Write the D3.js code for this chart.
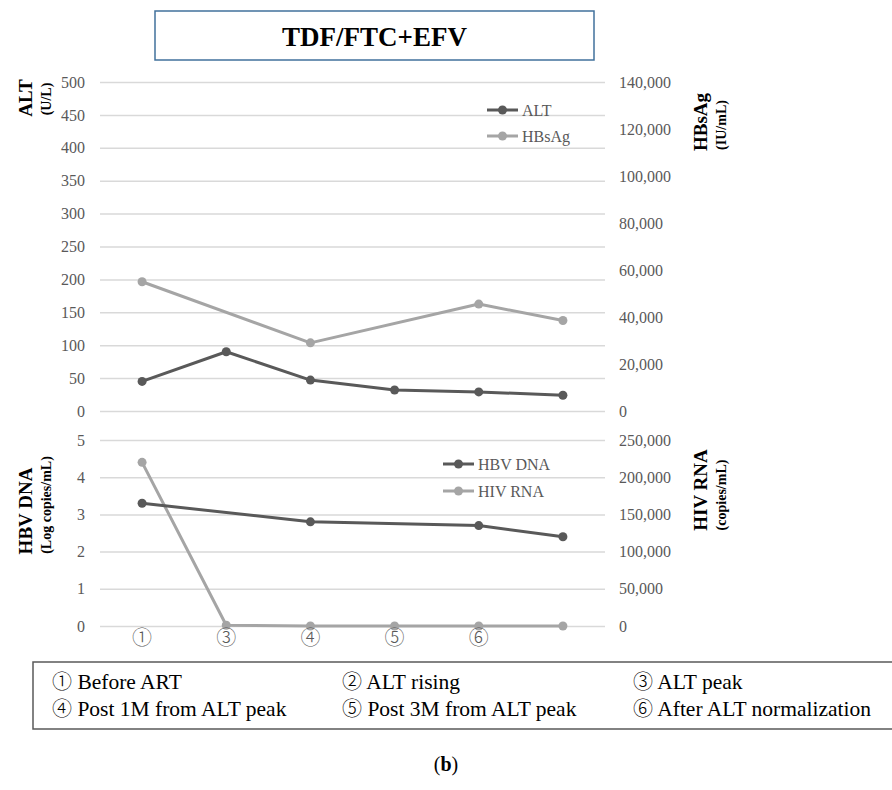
<!DOCTYPE html>
<html>
<head>
<meta charset="utf-8">
<script src="https://cdn.jsdelivr.net/npm/d3@7/dist/d3.min.js"></script>
<style>
  html, body { margin: 0; padding: 0; background: #fff; }
  svg { display: block; }
  text { font-family: "Liberation Serif", "Times New Roman", serif; }
</style>
</head>
<body>
<svg id="chart" width="892" height="790"></svg>
<script>
// ---------- data ----------
const categories = ["①", "③", "④", "⑤", "⑥", ""];
const altValues = [45, 90, 47, 32, 29, 24];
const hbsagValues = [55000, null, 29000, null, 45500, 38500];
const hbvDnaValues = [3.3, null, 2.8, null, 2.7, 2.4];
const hivRnaValues = [220000, 1000, 0, 0, 0, 0];

const altTicks = [0, 50, 100, 150, 200, 250, 300, 350, 400, 450, 500];
const hbsagTicks = [0, 20000, 40000, 60000, 80000, 100000, 120000, 140000];
const hbvTicks = [0, 1, 2, 3, 4, 5];
const hivTicks = [0, 50000, 100000, 150000, 200000, 250000];

const titleText = "TDF/FTC+EFV";
const stageMarks = [["①", "②", "③"], ["④", "⑤", "⑥"]];
const stageLabels = [
  ["Before ART", "ALT rising", "ALT peak"],
  ["Post 1M from ALT peak", "Post 3M from ALT peak", "After ALT normalization"]
];

// ---------- layout ----------
const svg = d3.select("#chart");
const left = 100, right = 605;
const topPanel = { y0: 411, y1: 82 };
const botPanel = { y0: 626, y1: 440 };
const darkC = "#595959", lightC = "#a5a5a5", gridC = "#d9d9d9", tickC = "#595959";
const cjk = '"Noto Sans CJK JP", "Noto Sans CJK SC", "DejaVu Sans", sans-serif';

const x = d3.scaleBand().domain(categories.map((c, i) => i)).range([left, right]).padding(0);
const cx = i => x(i) + x.bandwidth() / 2;

const yAlt = d3.scaleLinear().domain([0, 500]).range([topPanel.y0, topPanel.y1]);
const yHbs = d3.scaleLinear().domain([0, 140000]).range([topPanel.y0, topPanel.y1]);
const yHbv = d3.scaleLinear().domain([0, 5]).range([botPanel.y0, botPanel.y1]);
const yHiv = d3.scaleLinear().domain([0, 250000]).range([botPanel.y0, botPanel.y1]);

const fmt = d3.format(",");

// title box
svg.append("rect").attr("x", 155).attr("y", 11).attr("width", 439).attr("height", 49)
  .attr("fill", "#fff").attr("stroke", "#41719c").attr("stroke-width", 1.5);
svg.append("text").attr("x", 374.5).attr("y", 46).attr("text-anchor", "middle")
  .attr("font-size", 27).attr("font-weight", "bold").attr("fill", "#000").text(titleText);

// grid + axes
function gridAndAxes(yL, ticksL, yR, ticksR, fmtR) {
  const g = svg.append("g");
  const grid = g.append("g").attr("transform", `translate(${left},0)`)
    .call(d3.axisLeft(yL).tickValues(ticksL).tickSize(-(right - left)).tickFormat(""));
  grid.select(".domain").remove();
  grid.selectAll("line").attr("stroke", gridC).attr("stroke-width", 1.5);

  const la = g.append("g").attr("transform", `translate(${left},0)`)
    .call(d3.axisLeft(yL).tickValues(ticksL).tickSize(0).tickPadding(15).tickFormat(d3.format("d")));
  la.select(".domain").remove();
  la.selectAll("text").attr("fill", tickC).attr("font-size", 16)
    .style("font-family", '"Liberation Serif", serif');

  const ra = g.append("g").attr("transform", `translate(${right},0)`)
    .call(d3.axisRight(yR).tickValues(ticksR).tickSize(0).tickPadding(14).tickFormat(fmtR));
  ra.select(".domain").remove();
  ra.selectAll("text").attr("fill", tickC).attr("font-size", 16)
    .style("font-family", '"Liberation Serif", serif');
}
gridAndAxes(yAlt, altTicks, yHbs, hbsagTicks, fmt);
gridAndAxes(yHbv, hbvTicks, yHiv, hivTicks, fmt);

// series
function drawSeries(values, y, color) {
  const pts = values.map((v, i) => ({ i, v })).filter(d => d.v !== null);
  const line = d3.line().x(d => cx(d.i)).y(d => y(d.v));
  svg.append("path").datum(pts).attr("d", line).attr("fill", "none")
    .attr("stroke", color).attr("stroke-width", 3).attr("stroke-linejoin", "round");
  svg.append("g").selectAll("circle").data(pts).join("circle")
    .attr("cx", d => cx(d.i)).attr("cy", d => y(d.v)).attr("r", 4.5).attr("fill", color);
}
drawSeries(hbsagValues, yHbs, lightC);
drawSeries(altValues, yAlt, darkC);
drawSeries(hivRnaValues, yHiv, lightC);
drawSeries(hbvDnaValues, yHbv, darkC);

// x labels
const xa = svg.append("g").attr("transform", `translate(0,${botPanel.y0})`)
  .call(d3.axisBottom(x).tickSize(0).tickPadding(5).tickFormat(i => categories[i]));
xa.select(".domain").remove();
xa.selectAll("text").attr("fill", tickC).attr("font-size", 20)
  .style("font-family", cjk).style("font-weight", "300");

// legends
function legendItem(x0, y0, color, label) {
  svg.append("line").attr("x1", x0).attr("x2", x0 + 31).attr("y1", y0).attr("y2", y0)
    .attr("stroke", color).attr("stroke-width", 3);
  svg.append("circle").attr("cx", x0 + 15.5).attr("cy", y0).attr("r", 4.5).attr("fill", color);
  svg.append("text").attr("x", x0 + 35).attr("y", y0).attr("dy", "0.35em")
    .attr("font-size", 16).attr("fill", tickC).text(label);
}
legendItem(487, 110, darkC, "ALT");
legendItem(487, 136, lightC, "HBsAg");
legendItem(443, 464, darkC, "HBV DNA");
legendItem(443, 491, lightC, "HIV RNA");

// axis titles
function axisTitle(xMain, yMain, xSub, ySub, main, sub) {
  svg.append("text").attr("transform", `translate(${xMain},${yMain}) rotate(-90)`)
    .attr("text-anchor", "middle").attr("font-size", 19).attr("font-weight", "bold")
    .attr("fill", "#000").text(main);
  svg.append("text").attr("transform", `translate(${xSub},${ySub}) rotate(-90)`)
    .attr("text-anchor", "middle").attr("font-size", 14).attr("font-weight", "bold")
    .attr("fill", "#000").text(sub);
}
axisTitle(32, 98, 51, 99, "ALT", "(U/L)");
axisTitle(32, 511, 51, 505, "HBV DNA", "(Log copies/mL)");
axisTitle(707, 122, 726, 125, "HBsAg", "(IU/mL)");
axisTitle(707, 490, 726, 495, "HIV RNA", "(copies/mL)");

// stage legend box
svg.append("rect").attr("x", 33).attr("y", 662).attr("width", 862).attr("height", 67)
  .attr("fill", "none").attr("stroke", "#595959").attr("stroke-width", 1.5);
const colX = [52, 342, 633];
const rowY = [689, 716];
stageLabels.forEach((row, r) => row.forEach((lab, c) => {
  const t = svg.append("text").attr("x", colX[c]).attr("y", rowY[r]).attr("font-size", 21.5)
    .attr("fill", "#000");
  t.append("tspan").style("font-family", cjk).style("font-weight", "300")
    .attr("font-size", 20).text(stageMarks[r][c]);
  t.append("tspan").text(" " + lab);
}));

// (b)
const b = svg.append("text").attr("x", 446).attr("y", 771).attr("text-anchor", "middle")
  .attr("font-size", 20).attr("fill", "#000");
b.append("tspan").text("(");
b.append("tspan").attr("font-weight", "bold").text("b");
b.append("tspan").text(")");
</script>
</body>
</html>
